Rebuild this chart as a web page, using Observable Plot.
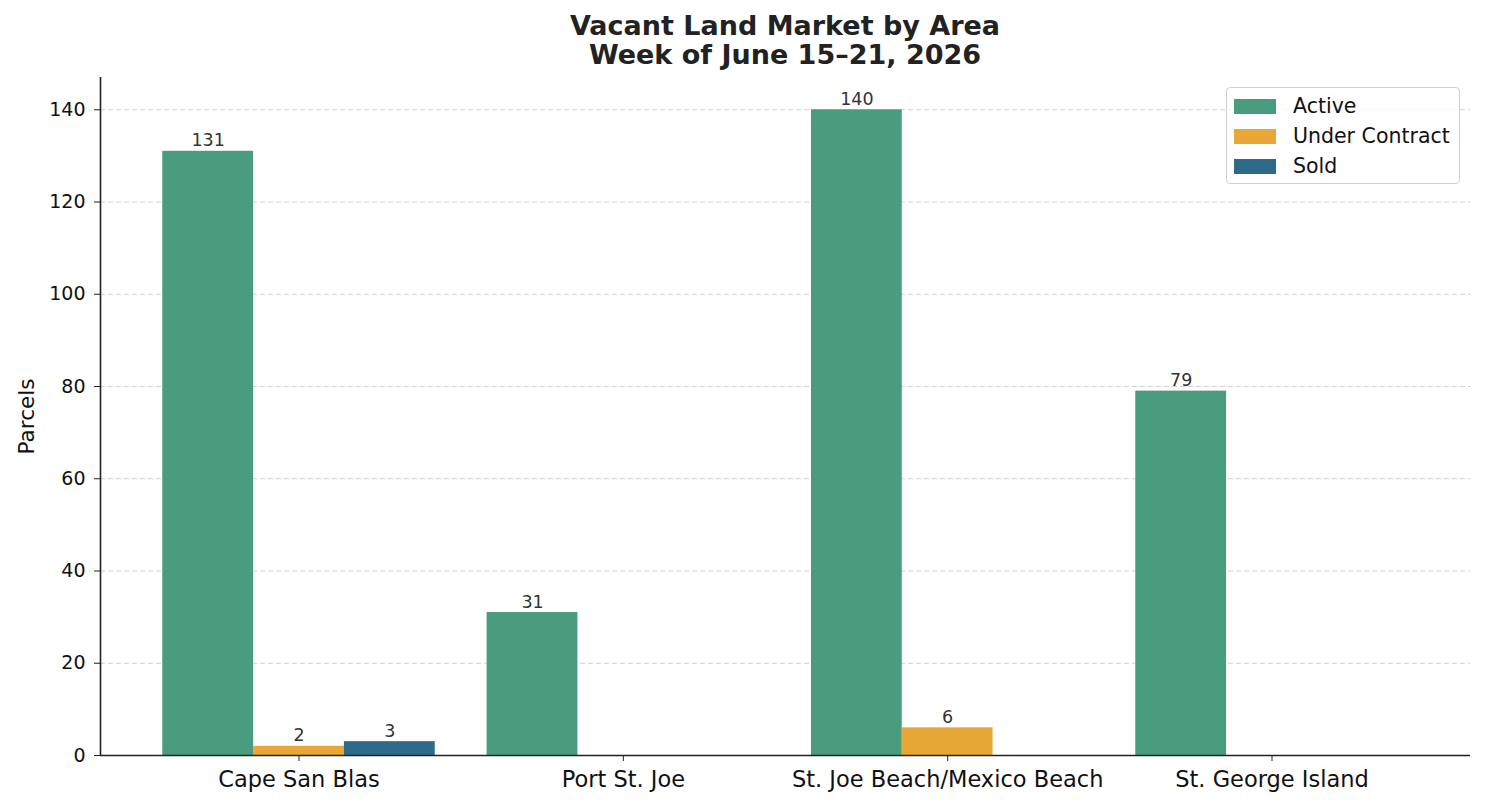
<!DOCTYPE html>
<html>
<head>
<meta charset="utf-8">
<script src="https://cdn.jsdelivr.net/npm/d3@7"></script>
<script src="https://cdn.jsdelivr.net/npm/@observablehq/plot@0.6"></script>
<style>
  html, body { margin: 0; padding: 0; background: #fff; }
  body { font-family: "DejaVu Sans", sans-serif; }
  #wrap { position: relative; width: 1485px; height: 808px; overflow: hidden; }
  #title { height: 70px; margin-left: 100px; width: 1370px; text-align: center; font-weight: bold;
           font-size: 27px; line-height: 29px; color: #222; padding-top: 11px; box-sizing: border-box; }
  #legend { position: absolute; left: 1226px; top: 87px; width: 234px; height: 97px;
            box-sizing: border-box; border: 1px solid #d0d0d0; border-radius: 4px;
            background: rgba(255,255,255,0.85); font-size: 20.5px; color: #111; }
  .row { position: absolute; left: 7px; height: 30px; display: flex; align-items: center; }
  .sw { width: 42px; height: 15px; margin-right: 17px; }
  svg { display: block; }
</style>
</head>
<body>
<div id="wrap">
  <div id="title">Vacant Land Market by Area<br>Week of June 15–21, 2026</div>
  <div id="chart"></div>
  <div id="legend"></div>
</div>
<script>
// Parcel counts by area and listing status
const areas = ["Cape San Blas", "Port St. Joe", "St. Joe Beach/Mexico Beach", "St. George Island"];
const statuses = ["Active", "Under Contract", "Sold"];
const active = [131, 31, 140, 79];
const underContract = [2, 0, 6, 0];
const sold = [3, 0, 0, 0];
const statusColors = ["#4a9c7e", "#e8a838", "#2e6a8a"];
const yTicks = [0, 20, 40, 60, 80, 100, 120, 140];

const series = [active, underContract, sold];
const barWidth = 0.28;

// one row per bar: the group index plus the offset of its status within the group
const rows = [];
areas.forEach((area, i) => {
  statuses.forEach((status, k) => {
    const center = i + (k - 1) * barWidth;
    rows.push({area, status, value: series[k][i], x1: center - barWidth / 2, x2: center + barWidth / 2, xc: center});
  });
});

const chart = Plot.plot({
  width: 1485,
  height: 738,
  marginTop: 7,
  marginBottom: 53,
  marginLeft: 100,
  marginRight: 15,
  style: {fontFamily: "DejaVu Sans, sans-serif", color: "#111", background: "#fff"},
  x: {type: "linear", domain: [-0.612, 3.612]},
  y: {domain: [0, 147]},
  color: {domain: statuses, range: statusColors},
  marks: [
    Plot.gridY(yTicks.filter(d => d > 0), {stroke: "#cfcfcf", strokeOpacity: 1, strokeDasharray: "5,3"}),
    Plot.rectY(rows, {x1: "x1", x2: "x2", y1: 0, y2: "value", fill: "status"}),
    Plot.text(rows.filter(d => d.value > 0), {x: "xc", y: "value", text: d => String(d.value),
      lineAnchor: "bottom", dy: -5, fontSize: 17.5, fill: "#333"}),
    Plot.axisY({ticks: yTicks, tickSize: 6, tickPadding: 9, fontSize: 19, stroke: "#222",
      label: "Parcels", labelAnchor: "center", labelArrow: "none", labelOffset: 82}),
    Plot.axisX({ticks: [0, 1, 2, 3], tickFormat: i => areas[i], tickSize: 6, tickPadding: 10,
      fontSize: 22.5, stroke: "#222", label: null}),
    Plot.ruleX([-0.612], {stroke: "#222", strokeWidth: 1.6}),
    Plot.ruleY([0], {stroke: "#222", strokeWidth: 1.6})
  ]
});
// the axis title is slightly larger than the tick labels
chart.querySelectorAll("text").forEach(t => {
  if (t.textContent === "Parcels") t.setAttribute("font-size", 21.5);
});
document.getElementById("chart").appendChild(chart);

// legend box in the upper right of the plot area
const legend = document.getElementById("legend");
statuses.forEach((s, k) => {
  const row = document.createElement("div");
  row.className = "row";
  row.style.top = (3 + k * 30) + "px";
  row.innerHTML = `<div class="sw" style="background:${statusColors[k]}"></div><span>${s}</span>`;
  legend.appendChild(row);
});
</script>
</body>
</html>
